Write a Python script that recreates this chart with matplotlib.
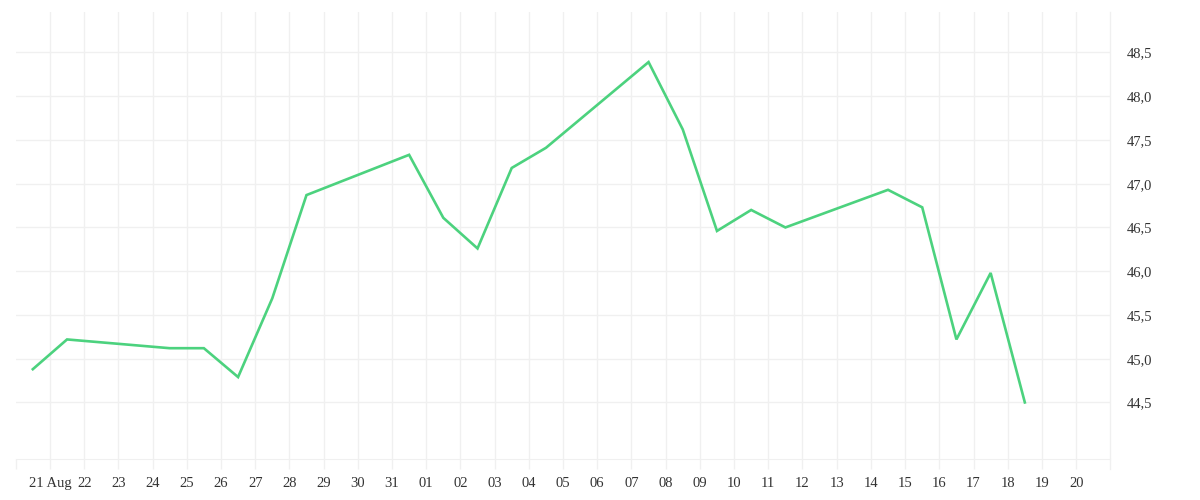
import pandas as pd
import numpy as np
import matplotlib
matplotlib.use('Agg')
import matplotlib.pyplot as plt
import matplotlib.dates as mdates

# daily values (weekends left out), plotted at midday
dates = ['2020-08-20', '2020-08-21', '2020-08-24', '2020-08-25', '2020-08-26',
         '2020-08-27', '2020-08-28', '2020-08-31', '2020-09-01', '2020-09-02',
         '2020-09-03', '2020-09-04', '2020-09-07', '2020-09-08', '2020-09-09',
         '2020-09-10', '2020-09-11', '2020-09-14', '2020-09-15', '2020-09-16',
         '2020-09-17', '2020-09-18']
values = [44.88, 45.22, 45.12, 45.12, 44.79, 45.69, 46.87, 47.33, 46.61, 46.26,
          47.18, 47.41, 48.39, 47.62, 46.46, 46.70, 46.50, 46.93, 46.73, 45.22,
          45.98, 44.50]
y_ticks = [44.5, 45.0, 45.5, 46.0, 46.5, 47.0, 47.5, 48.0, 48.5]

df = pd.DataFrame({'Dt': pd.to_datetime(dates) + pd.Timedelta(hours=12), 'Value': values})

grid_c = '#f0f0f0'
text_c = '#333333'
plt.rcParams['font.family'] = ['Liberation Serif', 'DejaVu Serif']

fig = plt.figure(figsize=(12, 5), dpi=100)
ax = fig.add_axes([0.0131, 0.0826, 0.9122, 0.8928])

ax.plot(df['Dt'], df['Value'], color='#4cd27e', lw=1.9, solid_joinstyle='miter')

ax.set_xlim(pd.Timestamp('2020-08-20'), pd.Timestamp('2020-09-21'))
ax.set_ylim(43.857, 48.959)

# x ticks: one per day, first one of August gets month name
days = pd.date_range('2020-08-21', '2020-09-20', freq='D')
ax.set_xticks(days)
xlabels = [d.strftime('%d') for d in days]
xlabels[0] = '21 Aug'
ax.set_xticklabels(xlabels)
ax.set_xticks(pd.date_range('2020-08-20', '2020-08-20'), minor=True)

ax.yaxis.tick_right()
ax.set_yticks(y_ticks)
ax.set_yticklabels([('%.1f' % v).replace('.', ',') for v in y_ticks])

ax.grid(True, color=grid_c, lw=1)
ax.tick_params(axis='x', which='both', length=7, width=1, color=grid_c,
               labelsize=10.5, labelcolor=text_c, pad=6)
ax.tick_params(axis='y', length=0, labelsize=10.5, labelcolor=text_c, pad=12)
for lab in ax.get_yticklabels():
    lab.set_horizontalalignment('left')

for s in ['top', 'left', 'right']:
    ax.spines[s].set_visible(False)
ax.spines['bottom'].set_color(grid_c)
# price scale border, runs a bit below the axis like the ticks
ax.plot([1, 1], [-0.022, 1], transform=ax.transAxes, color=grid_c, lw=1, clip_on=False)

fig.savefig('out.png', dpi=100, facecolor='white')
